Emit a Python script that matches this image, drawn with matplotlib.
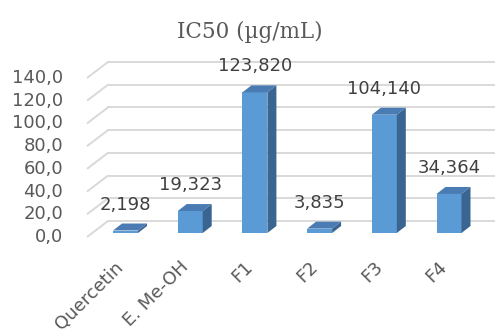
import matplotlib
matplotlib.use("Agg")
import matplotlib.pyplot as plt
from matplotlib.patches import Polygon
import numpy as np

categories = ["Quercetin", "E. Me-OH", "F1", "F2", "F3", "F4"]
values = [2.198, 19.323, 123.820, 3.835, 104.140, 34.364]
value_labels = ["2,198", "19,323", "123,820", "3,835", "104,140", "34,364"]
ticks = [0, 20, 40, 60, 80, 100, 120, 140]
tick_labels = ["0,0", "20,0", "40,0", "60,0", "80,0", "100,0", "120,0", "140,0"]

W, H = 495, 334
PX_X = 64.7      # pixels per category
PX_Y = 1.1357    # pixels per value unit


def px_x(p):
    return p / PX_X


def px_y(p):
    return p / PX_Y


FRONT = "#5b9bd5"
TOP = "#4a7cb3"
SIDE = "#3b6591"
GRID = "#d9d9d9"
TEXT = "#595959"
LABEL_FONT = ["DejaVu Sans"]

fig = plt.figure(figsize=(W / 100, H / 100), dpi=100)
ax = fig.add_axes([0, 0, 1, 1])
x0 = -125.5 / PX_X
ax.set_xlim(x0, x0 + W / PX_X)
ax.set_ylim(-(H - 233) / PX_Y, 233 / PX_Y)
ax.axis("off")

# depth offsets (bars and walls)
bar_w = px_x(25)
bdx, bdy = px_x(9), px_y(7)
wall_x = px_x(108 - 125.5)      # back wall left edge, in front plane coords
wdx, wdy = px_x(16), px_y(12)   # bar front -> back wall
fdx, fdy = px_x(-5), px_y(-4)   # bar front -> floor front edge
x_right = x0 + W / PX_X

for t, lab in zip(ticks, tick_labels):
    yb = t + wdy
    ax.plot([wall_x - wdx + fdx, wall_x], [t + fdy, yb], color=GRID, lw=1.4,
            solid_capstyle="butt", zorder=1)
    ax.plot([wall_x, x_right], [yb, yb], color=GRID, lw=1.4, zorder=1)
    ax.text(px_x(63 - 125.5), t + fdy, lab, ha="right", va="center",
            fontsize=13, color=TEXT, family=LABEL_FONT)

xs = np.arange(len(categories))
ax.bar(xs, values, width=bar_w, color=FRONT, zorder=3)
for x, v, lab, cat in zip(xs, values, value_labels, categories):
    l, r = x - bar_w / 2, x + bar_w / 2
    ax.add_patch(Polygon([(l, v), (r, v), (r + bdx, v + bdy), (l + bdx, v + bdy)],
                         closed=True, facecolor=TOP, edgecolor="none", zorder=3))
    ax.add_patch(Polygon([(r, 0), (r + bdx, bdy), (r + bdx, v + bdy), (r, v)],
                         closed=True, facecolor=SIDE, edgecolor="none", zorder=3))
    ax.text(x, v + px_y(26), lab, ha="center", va="center", fontsize=13,
            color="#404040", family=LABEL_FONT, zorder=4)
    ax.text(x - px_x(11), px_y(-25), cat, ha="right", va="top", rotation=45,
            rotation_mode="anchor", fontsize=13, color=TEXT, family=LABEL_FONT)

fig.text(250 / W, 1 - 32 / H, "IC50 (µg/mL)", ha="center", va="center",
         fontsize=15.5, color=TEXT, family=["DejaVu Serif"])

fig.savefig("out.png", dpi=100)
